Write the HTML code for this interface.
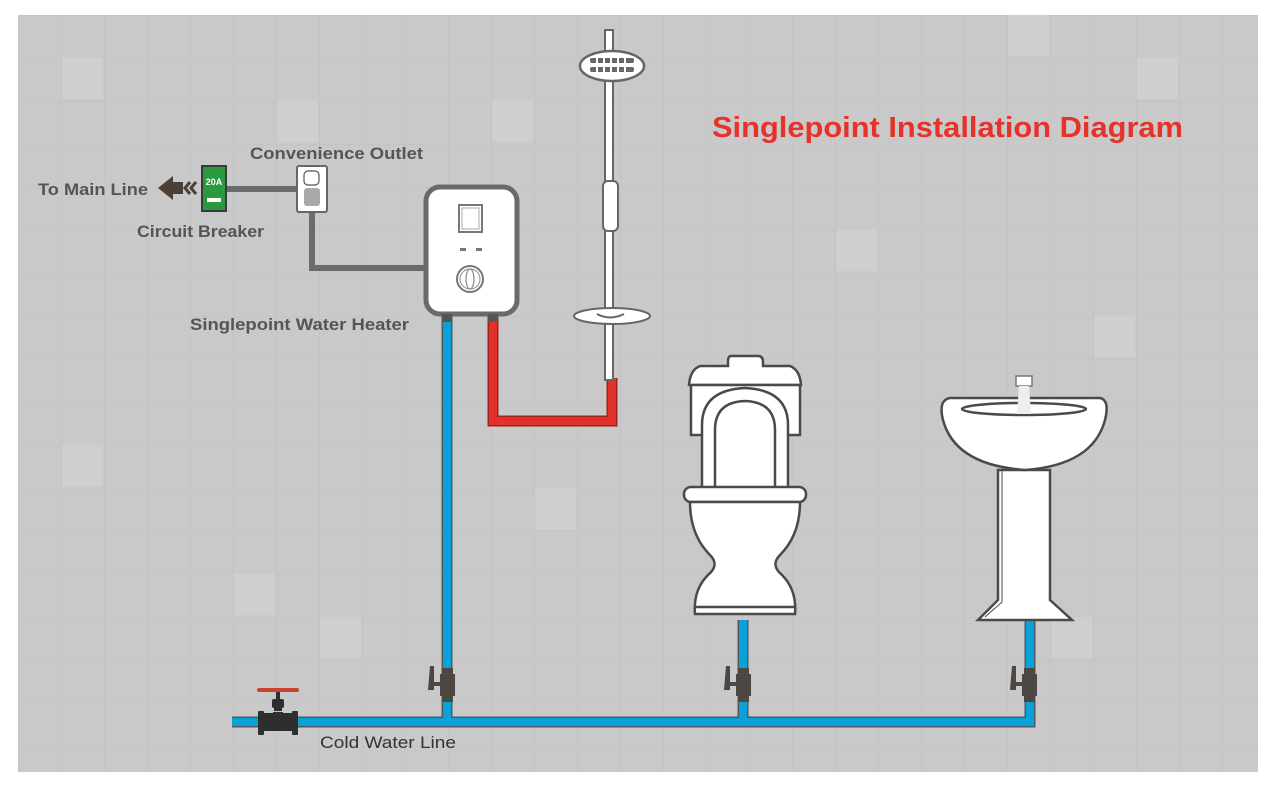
<!DOCTYPE html>
<html><head><meta charset="utf-8"><style>
html,body{margin:0;padding:0;background:#fff;}
svg{display:block;font-family:"Liberation Sans",sans-serif;}
</style></head><body>
<svg width="1270" height="785" viewBox="0 0 1270 785" xmlns="http://www.w3.org/2000/svg">
<defs>
<pattern id="tile" x="18" y="15" width="43" height="43" patternUnits="userSpaceOnUse">
<rect width="43" height="43" fill="#c9c9c9"/>
<path d="M0 0.5H43M0.5 0V43" stroke="#c4c4c4" stroke-width="1"/>
</pattern>
</defs>
<rect x="18" y="15" width="1240" height="757" fill="url(#tile)"/>
<g fill="#cfcfcf">
<rect x="62" y="58" width="41" height="41"/><rect x="277" y="101" width="41" height="41"/>
<rect x="492" y="101" width="41" height="41"/><rect x="1137" y="58" width="41" height="41"/>
<rect x="1008" y="15" width="41" height="41"/><rect x="62" y="445" width="41" height="41"/>
<rect x="234" y="574" width="41" height="41"/><rect x="836" y="230" width="41" height="41"/>
<rect x="1094" y="316" width="41" height="41"/><rect x="535" y="488" width="41" height="41"/>
<rect x="1051" y="617" width="41" height="41"/><rect x="320" y="617" width="41" height="41"/>
</g>

<text x="712" y="137" font-size="29" font-weight="bold" fill="#e5322a" textLength="471" lengthAdjust="spacingAndGlyphs">Singlepoint Installation Diagram</text>

<g font-size="17" font-weight="bold" fill="#555">
<text x="38" y="195" textLength="110" lengthAdjust="spacingAndGlyphs">To Main Line</text>
<text x="250" y="159" textLength="173" lengthAdjust="spacingAndGlyphs">Convenience Outlet</text>
<text x="137" y="237" textLength="127" lengthAdjust="spacingAndGlyphs">Circuit Breaker</text>
<text x="190" y="330" textLength="219" lengthAdjust="spacingAndGlyphs">Singlepoint Water Heater</text>
</g>
<text x="320" y="748" font-size="17" fill="#333" textLength="136" lengthAdjust="spacingAndGlyphs">Cold Water Line</text>

<!-- arrow -->
<path d="M158 188 L173 176 L173 182 L183 182 L183 194 L173 194 L173 200 Z" fill="#4a4038"/>
<path d="M190 182 L185 188 L190 194" stroke="#4a4038" stroke-width="3" fill="none"/>
<path d="M196 182 L191 188 L196 194" stroke="#4a4038" stroke-width="3" fill="none"/>

<!-- cables -->
<path d="M225 189 H298" stroke="#6b6b6b" stroke-width="6" fill="none"/>
<path d="M312 205 V268 H426" stroke="#6b6b6b" stroke-width="6" fill="none"/>

<!-- breaker -->
<rect x="202" y="166" width="24" height="45" fill="#2a9a3e" stroke="#3a3a3a" stroke-width="2"/>
<text x="214" y="185" font-size="9" font-weight="bold" fill="#fff" text-anchor="middle">20A</text>
<rect x="207" y="198" width="14" height="4" fill="#fff"/>

<!-- outlet -->
<rect x="297" y="166" width="30" height="46" rx="2" fill="#fff" stroke="#666" stroke-width="2"/>
<rect x="304" y="171" width="15" height="14" rx="4" fill="#fff" stroke="#555" stroke-width="1.2"/>
<rect x="304" y="188" width="16" height="18" rx="3" fill="#a9a9a9"/>

<!-- pipes -->
<g fill="none" stroke-linejoin="miter">
<path d="M447 316 V722 M232 722 H1030 V620 M743 722 V620" stroke="#4f5a60" stroke-width="11"/>
<path d="M447 316 V722 M232 722 H1030 V620 M743 722 V620" stroke="#0aa0d8" stroke-width="8"/>
<path d="M493 316 V421 H612 V378" stroke="#9a2520" stroke-width="11"/>
<path d="M493 316 V421 H612 V378" stroke="#e2302a" stroke-width="8"/>
</g>

<!-- heater -->
<rect x="426" y="187" width="91" height="127" rx="14" fill="#fff" stroke="#6a6a6a" stroke-width="5"/>
<rect x="459" y="205" width="23" height="27" fill="#fff" stroke="#777" stroke-width="2"/>
<rect x="462" y="208" width="17" height="21" fill="none" stroke="#aaa" stroke-width="1"/>
<rect x="460" y="248" width="6" height="3" fill="#777"/><rect x="476" y="248" width="6" height="3" fill="#777"/>
<circle cx="470" cy="279" r="13" fill="#fff" stroke="#777" stroke-width="2"/>
<circle cx="470" cy="279" r="10" fill="none" stroke="#888" stroke-width="1"/>
<ellipse cx="470" cy="279" rx="4" ry="10" fill="none" stroke="#888" stroke-width="1.2"/>
<rect x="442" y="314" width="10" height="8" fill="#555"/><rect x="488" y="314" width="10" height="8" fill="#555"/>

<!-- shower -->
<rect x="605" y="30" width="8" height="350" fill="#fff" stroke="#666" stroke-width="2"/>
<ellipse cx="612" cy="66" rx="32" ry="15" fill="#fff" stroke="#666" stroke-width="2.5"/>
<g fill="#666">
<rect x="590" y="58" width="44" height="5" rx="2"/><rect x="590" y="67" width="44" height="5" rx="2"/>
</g>
<g stroke="#fff" stroke-width="2"><path d="M597 56V74M604 56V74M611 56V74M618 56V74M625 56V74"/></g>
<rect x="603" y="181" width="15" height="50" rx="5" fill="#fff" stroke="#666" stroke-width="2"/>
<ellipse cx="612" cy="316" rx="38" ry="8" fill="#fff" stroke="#666" stroke-width="2"/>
<path d="M597 314 Q610 321 624 314" stroke="#666" stroke-width="2" fill="none"/>

<!-- toilet -->
<g fill="#fff" stroke="#4a4a4a" stroke-width="2.5">
<path d="M731 356 H758 Q763 356 763 362 V366 H790 Q800 370 801 385 H689 Q690 370 700 366 H728 V362 Q728 356 731 356 Z"/>
<rect x="691" y="385" width="109" height="50"/>
<path d="M702 490 V425 Q702 390 745 388 Q788 390 788 425 V490 Z"/>
<path d="M715 490 V430 Q715 402 745 401 Q775 402 775 430 V490"/>
<rect x="684" y="487" width="122" height="15" rx="7"/>
<path d="M690 502 Q690 535 710 555 Q720 565 708 575 Q693 590 695 614 H795 Q797 590 782 575 Q770 565 780 555 Q800 535 800 502 Z"/>
<path d="M696 607 H794"/>
</g>

<!-- sink -->
<g fill="#fff" stroke="#4a4a4a" stroke-width="2.5">
<path d="M998 470 L998 600 L978 620 L1072 620 L1050 600 L1050 470 Z"/>
<path d="M1002 470 V602 L985 617" fill="none" stroke-width="1"/>
<path d="M950 398 H1100 Q1110 400 1105 420 Q1093 465 1025 470 Q955 465 943 420 Q938 400 950 398 Z"/>
<ellipse cx="1024" cy="409" rx="62" ry="6"/>
</g>
<rect x="1016" y="376" width="16" height="10" fill="#fff" stroke="#777" stroke-width="1.5"/>
<path d="M1019 386 H1029 L1031 414 H1017 Z" fill="#eee"/>

<!-- small valves -->
<g fill="#4d4744">
<rect x="442" y="668" width="11" height="6"/><rect x="440" y="674" width="15" height="22"/><rect x="442" y="696" width="11" height="6"/><path d="M430 666 H434 V690 H428 Z"/><rect x="434" y="682" width="6" height="4"/>
<rect x="738" y="668" width="11" height="6"/><rect x="736" y="674" width="15" height="22"/><rect x="738" y="696" width="11" height="6"/><path d="M726 666 H730 V690 H724 Z"/><rect x="730" y="682" width="6" height="4"/>
<rect x="1024" y="668" width="11" height="6"/><rect x="1022" y="674" width="15" height="22"/><rect x="1024" y="696" width="11" height="6"/><path d="M1012 666 H1016 V690 H1010 Z"/><rect x="1016" y="682" width="6" height="4"/>
</g>

<!-- gate valve -->
<rect x="257" y="688" width="42" height="4" rx="2" fill="#c8442e"/>
<g fill="#2e2e2e">
<rect x="276" y="692" width="4" height="7"/>
<rect x="272" y="699" width="12" height="9" rx="2"/>
<rect x="274" y="708" width="8" height="3"/><rect x="273" y="712" width="10" height="3"/>
<rect x="263" y="713" width="30" height="18"/>
<rect x="258" y="711" width="6" height="24" rx="1"/><rect x="292" y="711" width="6" height="24" rx="1"/>
</g>
</svg>
</body></html>
